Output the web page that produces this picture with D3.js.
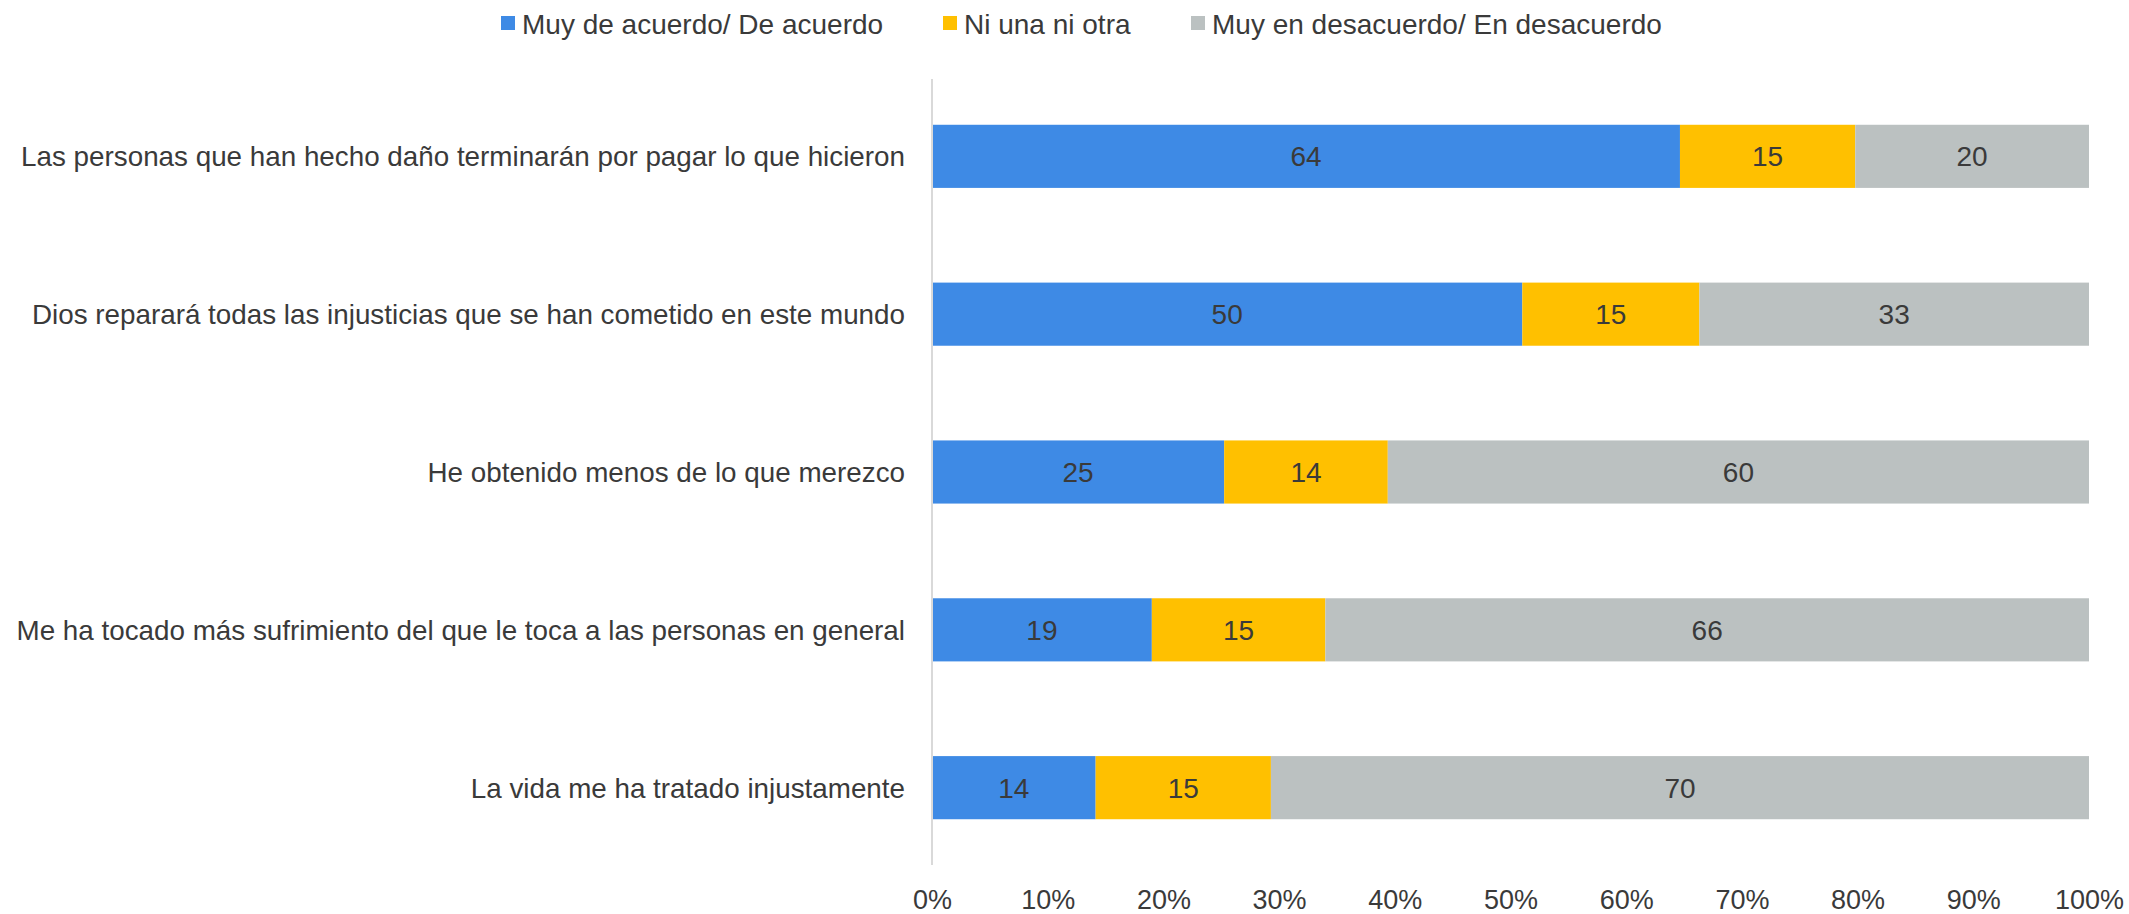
<!DOCTYPE html>
<html>
<head>
<meta charset="utf-8">
<script src="https://cdn.jsdelivr.net/npm/d3@7"></script>
<style>
  html, body { margin: 0; padding: 0; background: #fff; }
  svg text { font-family: "Liberation Sans", Arial, sans-serif; fill: #3a3a3a; }
</style>
</head>
<body>
<svg id="chart" width="2129" height="914"></svg>
<script>
// Survey statements, top to bottom
const categories = [
  "Las personas que han hecho daño terminarán por pagar lo que hicieron",
  "Dios reparará todas las injusticias que se han cometido en este mundo",
  "He obtenido menos de lo que merezco",
  "Me ha tocado más sufrimiento del que le toca a las personas en general",
  "La vida me ha tratado injustamente"
];
const seriesNames = [
  "Muy de acuerdo/ De acuerdo",
  "Ni una ni otra",
  "Muy en desacuerdo/ En desacuerdo"
];
const agree    = [64, 50, 25, 19, 14];
const neutral  = [15, 15, 14, 15, 15];
const disagree = [20, 33, 60, 66, 70];
const tickValues = [0, 0.1, 0.2, 0.3, 0.4, 0.5, 0.6, 0.7, 0.8, 0.9, 1.0];
const colors = ["#3e8ae5", "#ffc000", "#bbc1c1"];

const rows = categories.map((c, i) => ({
  cat: c, s0: agree[i], s1: neutral[i], s2: disagree[i]
}));
const keys = ["s0", "s1", "s2"];

// 100% stacked layout
const stacked = d3.stack().keys(keys).offset(d3.stackOffsetExpand)(rows);

const svg = d3.select("#chart");
const plotLeft = 932, plotRight = 2089, plotTop = 79, plotBottom = 865;

const x = d3.scaleLinear().domain([0, 1]).range([plotLeft, plotRight]);
const y = d3.scaleBand().domain(categories).range([plotTop, plotBottom])
  .paddingInner(0.6).paddingOuter(0.29);
const color = d3.scaleOrdinal().domain(keys).range(colors);

// Bars
const layers = svg.append("g").selectAll("g").data(stacked).join("g")
  .attr("fill", d => color(d.key));
layers.selectAll("rect").data(d => d).join("rect")
  .attr("x", d => x(d[0]))
  .attr("y", d => y(d.data.cat))
  .attr("width", d => x(d[1]) - x(d[0]))
  .attr("height", y.bandwidth());

// Value labels
const labels = svg.append("g");
stacked.forEach(layer => {
  labels.append("g").selectAll("text").data(layer).join("text")
    .attr("x", d => (x(d[0]) + x(d[1])) / 2)
    .attr("y", d => y(d.data.cat) + y.bandwidth() / 2 + 10)
    .attr("text-anchor", "middle")
    .style("font-size", "28px")
    .text(d => d.data[layer.key]);
});

// Vertical category axis line
svg.append("line")
  .attr("x1", plotLeft).attr("x2", plotLeft)
  .attr("y1", plotTop).attr("y2", plotBottom)
  .attr("stroke", "#d9d9d9").attr("stroke-width", 2);

// Category labels
svg.append("g").selectAll("text").data(categories).join("text")
  .attr("x", plotLeft - 27)
  .attr("y", d => y(d) + y.bandwidth() / 2 + 10)
  .attr("text-anchor", "end")
  .style("font-size", "27.8px")
  .text(d => d);

// Percentage axis
const xAxis = d3.axisBottom(x).tickValues(tickValues)
  .tickFormat(d3.format(".0%")).tickSize(0).tickPadding(0);
const gx = svg.append("g").attr("transform", `translate(0, ${plotBottom})`).call(xAxis);
gx.select(".domain").remove();
gx.selectAll("text")
  .attr("y", 44).attr("dy", null)
  .attr("fill", "#3a3a3a")
  .style("font-size", "27px")
  .style("font-family", "'Liberation Sans', Arial, sans-serif");

// Legend
const legendX = [501, 943, 1191];
const legend = svg.append("g").selectAll("g").data(seriesNames).join("g")
  .attr("transform", (d, i) => `translate(${legendX[i]}, 16)`);
legend.append("rect").attr("width", 14).attr("height", 14)
  .attr("fill", (d, i) => colors[i]);
legend.append("text").attr("x", 21).attr("y", 18)
  .style("font-size", "28px")
  .text(d => d);
</script>
</body>
</html>
